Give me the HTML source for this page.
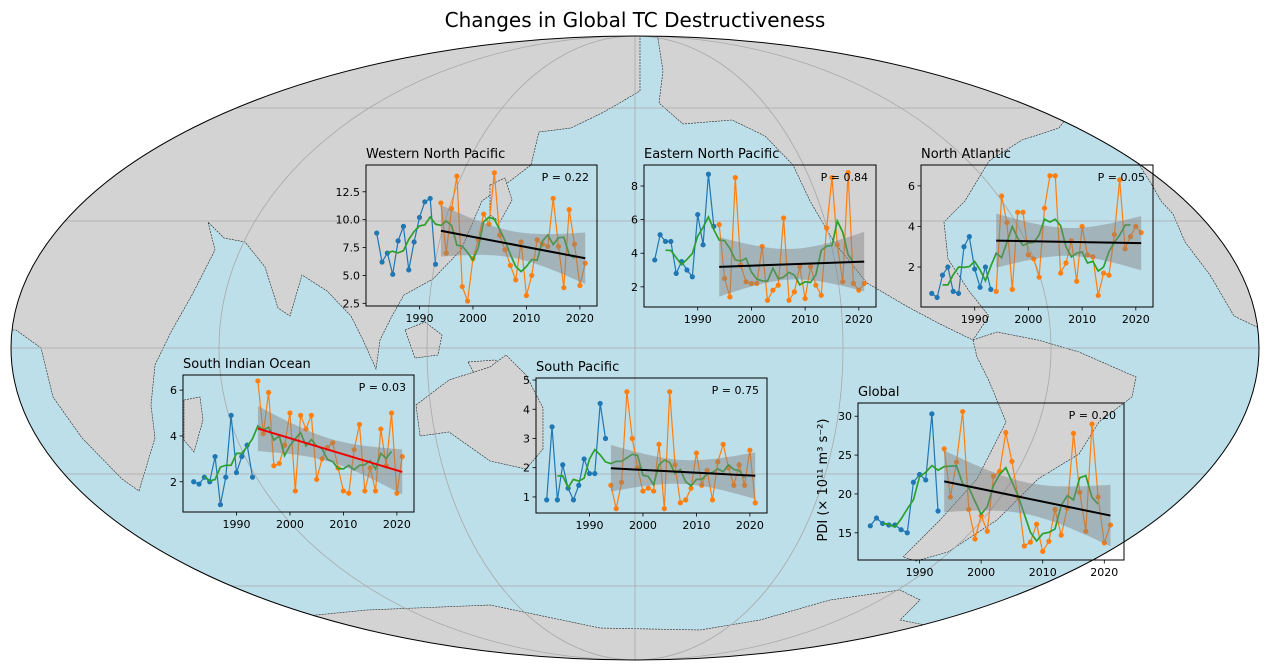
<!DOCTYPE html>
<html><head><meta charset="utf-8">
<style>
html,body{margin:0;padding:0;background:#fff;}
svg{display:block;font-family:"DejaVu Sans","Liberation Sans",sans-serif;}
</style></head>
<body>
<svg id="s" width="1269" height="669" viewBox="0 0 1269 669" xmlns="http://www.w3.org/2000/svg">
<defs><clipPath id="ec"><ellipse cx="635" cy="348" rx="624" ry="312"/></clipPath></defs>
<text x="635" y="27" font-size="20" text-anchor="middle" fill="#000">Changes in Global TC Destructiveness</text>
<ellipse cx="635" cy="348" rx="624" ry="312" fill="#bddfea"/>
<g clip-path="url(#ec)" fill="#d3d3d3" stroke="#222" stroke-width="0.6" stroke-dasharray="2,1">
<polygon points="0,0 640,0 640,91 604,112 571,128 539,132 531,165 510,181 482,201 473,222 461,250 433,279 404,295 392,316 380,340 376,369 363,340 351,316 327,291 302,275 290,316 278,308 265,267 245,242 224,238 208,222 215,250 192,295 171,332 155,365 151,405 155,438 139,491 122,479 82,438 53,397 41,348 16,330 0,330"/>
<polygon points="184,400 200,397 203,420 194,452 184,440"/>
<polygon points="405,330 425,322 442,335 438,355 415,358"/>
<polygon points="468,362 495,360 515,372 505,382 475,375"/>
<polygon points="490,185 505,178 512,200 500,222 490,215"/>
<polygon points="416,405 449,380 490,367 506,355 526,375 543,408 543,449 526,469 490,461 449,432 420,436"/>
<polygon points="652,0 663,71 659,103 683,124 732,120 765,136 793,165 810,201 834,242 867,283 908,307 940,324 973,340 989,316 969,291 948,259 944,222 965,201 989,161 1022,140 1059,128 1071,112 1038,99 1038,71 1079,54 1100,0"/>
<polygon points="1060,40 1180,60 1160,120 1100,135 1070,100"/>
<polygon points="973,340 997,332 1038,340 1079,352 1136,377 1132,397 1099,422 1079,454 1038,479 997,520 948,552 916,561 903,557 940,520 977,479 1006,422 989,381 977,357"/>
<polygon points="1152,185 1161,201 1173,214 1185,242 1210,275 1234,316 1259,328 1300,330 1300,130 1180,135 1130,150"/>
<polygon points="250,640 286,618 367,610 490,605 600,628 700,630 760,620 830,600 900,590 920,600 900,620 1000,640 1000,700 250,700"/>
</g>
<g clip-path="url(#ec)" stroke="#a8a8a8" stroke-width="0.8" fill="none">
<line x1="0" y1="108" x2="1269" y2="108"/><line x1="0" y1="221" x2="1269" y2="221"/>
<line x1="0" y1="348" x2="1269" y2="348"/><line x1="0" y1="474" x2="1269" y2="474"/>
<line x1="0" y1="586" x2="1269" y2="586"/><line x1="635" y1="0" x2="635" y2="669"/>
<ellipse cx="635" cy="348" rx="416" ry="312"/><ellipse cx="635" cy="348" rx="208" ry="312"/>
</g>
<ellipse cx="635" cy="348" rx="624" ry="312" fill="none" stroke="#000" stroke-width="1"/>
<g id="plots"></g>
<text transform="translate(827,480) rotate(-90)" font-size="13" text-anchor="middle">PDI (× 10¹¹ m³ s⁻²)</text>
</svg>
<script>
const P=[
{t:"Western North Pacific",b:[366,165,597,306],y:[2.26,14.9],yt:[[2.5,"2.5"],[5,"5.0"],[7.5,"7.5"],[10,"10.0"],[12.5,"12.5"]],p:"P = 0.22",c:"#000",
d:[8.8,6.2,7.0,5.1,8.1,9.4,5.5,8.0,10.2,11.6,11.9,6.0,11.5,7.0,11.0,13.9,4.0,2.7,6.5,8.2,10.5,9.6,14.2,8.6,7.3,5.9,4.6,8.0,3.2,5.0,8.2,7.8,7.6,11.9,7.6,3.9,10.9,7.8,4.1,6.1]},
{t:"Eastern North Pacific",b:[644,165,876,307],y:[0.8,9.25],yt:[[2,"2"],[4,"4"],[6,"6"],[8,"8"]],p:"P = 0.84",c:"#000",
d:[3.6,5.1,4.7,4.7,2.8,3.5,3.0,2.6,6.3,4.5,8.7,5.6,5.7,2.5,1.4,8.5,3.3,2.3,2.2,2.2,4.4,1.2,1.8,2.1,6.1,1.2,1.7,3.2,1.3,3.2,2.1,1.5,5.5,8.5,4.5,2.3,8.8,2.2,1.8,2.2]},
{t:"North Atlantic",b:[921,165,1153,307],y:[0.03,7.03],yt:[[2,"2"],[4,"4"],[6,"6"]],p:"P = 0.05",c:"#000",
d:[0.7,0.5,1.6,2.0,0.8,0.7,3.0,3.5,1.9,1.0,2.0,0.9,0.8,5.5,4.2,0.9,4.7,4.7,2.6,2.4,1.5,4.9,6.5,6.5,1.7,2.2,3.3,1.3,4.0,2.6,2.5,0.6,1.7,1.6,3.6,6.3,2.9,3.5,4.0,3.7]},
{t:"South Indian Ocean",b:[183,375,414,512],y:[0.68,6.66],yt:[[2,"2"],[4,"4"],[6,"6"]],p:"P = 0.03",c:"#e00",
d:[2.0,1.9,2.2,2.0,3.1,1.0,2.2,4.9,2.4,3.1,3.6,2.2,6.4,4.1,5.9,2.7,2.8,3.6,5.0,1.6,4.9,4.3,4.9,2.1,3.0,3.5,3.7,2.6,1.6,1.5,3.4,4.5,1.6,2.6,1.6,4.3,2.7,5.0,1.5,3.1]},
{t:"South Pacific",b:[536,378,767,513],y:[0.45,5.07],yt:[[1,"1"],[2,"2"],[3,"3"],[4,"4"],[5,"5"]],p:"P = 0.75",c:"#000",
d:[0.9,3.4,0.9,2.1,1.3,0.9,1.4,2.3,1.8,1.8,4.2,3.0,1.4,0.6,1.5,4.6,3.0,2.0,1.2,1.3,1.2,2.8,0.6,4.6,2.1,0.8,0.9,1.3,2.5,1.4,1.9,0.9,2.2,2.8,2.0,1.4,2.1,1.4,2.6,0.8]},
{t:"Global",b:[858,403,1124,560],y:[11.5,31.7],yt:[[15,"15"],[20,"20"],[25,"25"],[30,"30"]],p:"P = 0.20",c:"#000",
d:[15.9,16.9,16.2,16.0,16.0,15.4,15.0,21.5,22.5,21.8,30.3,17.8,25.8,19.6,24.1,30.6,18.0,14.2,17.2,15.2,22.3,22.9,27.9,24.2,19.6,13.3,13.8,16.1,12.6,13.9,18.0,14.7,18.2,27.8,20.2,15.2,29.0,19.6,13.7,16.0]}
];
let h="";
for(const q of P){
 const [x0,y0,x1,y1]=q.b;
 const X=yr=>x0+(yr-1980)/(43.2)*(x1-x0);
 const Y=v=>y1-(v-q.y[0])/(q.y[1]-q.y[0])*(y1-y0);
 const yrs=q.d.map((v,i)=>1982+i);
 h+=`<text x="${x0}" y="${y0-7}" font-size="13">${q.t}</text>`;
 for(const yr of [1990,2000,2010,2020]){const x=X(yr);h+=`<line x1="${x}" y1="${y1}" x2="${x}" y2="${y1+3.5}" stroke="#000" stroke-width="0.8"/><text x="${x}" y="${y1+16}" font-size="11" text-anchor="middle">${yr}</text>`;}
 for(const [v,l] of q.yt){const y=Y(v);h+=`<line x1="${x0-3.5}" y1="${y}" x2="${x0}" y2="${y}" stroke="#000" stroke-width="0.8"/><text x="${x0-6}" y="${y+4}" font-size="11" text-anchor="end">${l}</text>`;}
 const pts=a=>a.map(([x,y])=>`${X(x).toFixed(1)},${Y(y).toFixed(1)}`).join(" ");
 const blue=yrs.slice(0,12).map((x,i)=>[x,q.d[i]]);
 const or=yrs.slice(12).map((x,i)=>[x,q.d[12+i]]);
 h+=`<polyline points="${pts(blue)}" fill="none" stroke="#1f77b4" stroke-width="1.2"/>`;
 for(const p of blue)h+=`<circle cx="${X(p[0])}" cy="${Y(p[1])}" r="2.6" fill="#1f77b4"/>`;
 h+=`<polyline points="${pts(or)}" fill="none" stroke="#ff7f0e" stroke-width="1.2"/>`;
 for(const p of or)h+=`<circle cx="${X(p[0])}" cy="${Y(p[1])}" r="2.6" fill="#ff7f0e"/>`;
 const g=[];for(let i=2;i<q.d.length-2;i++){let s=0;for(let k=-2;k<=2;k++)s+=q.d[i+k];g.push([yrs[i],s/5]);}
 h+=`<polyline points="${pts(g)}" fill="none" stroke="#2ca02c" stroke-width="1.7"/>`;
 const n=or.length;const xm=or.reduce((a,p)=>a+p[0],0)/n,ym=or.reduce((a,p)=>a+p[1],0)/n;
 let sxx=0,sxy=0;for(const p of or){sxx+=(p[0]-xm)**2;sxy+=(p[0]-xm)*(p[1]-ym);}
 const b=sxy/sxx,a=ym-b*xm;let ss=0;for(const p of or)ss+=(p[1]-a-b*p[0])**2;
 const s=Math.sqrt(ss/(n-2));const up=[],dn=[];
 for(let x=1994;x<=2021;x+=0.5){const f=a+b*x,hw=2.056*s*Math.sqrt(1/n+(x-xm)**2/sxx);up.push([x,f+hw]);dn.unshift([x,f-hw]);}
 h+=`<polygon points="${pts(up.concat(dn))}" fill="#808080" fill-opacity="0.45"/>`;
 h+=`<line x1="${X(1994)}" y1="${Y(a+b*1994)}" x2="${X(2021)}" y2="${Y(a+b*2021)}" stroke="${q.c}" stroke-width="2"/>`;
 h+=`<rect x="${x0}" y="${y0}" width="${x1-x0}" height="${y1-y0}" fill="none" stroke="#000" stroke-width="1"/>`;
 h+=`<text x="${x1-8}" y="${y0+16}" font-size="11" text-anchor="end">${q.p}</text>`;
}
document.getElementById("plots").innerHTML=h;
</script>
</body></html>
